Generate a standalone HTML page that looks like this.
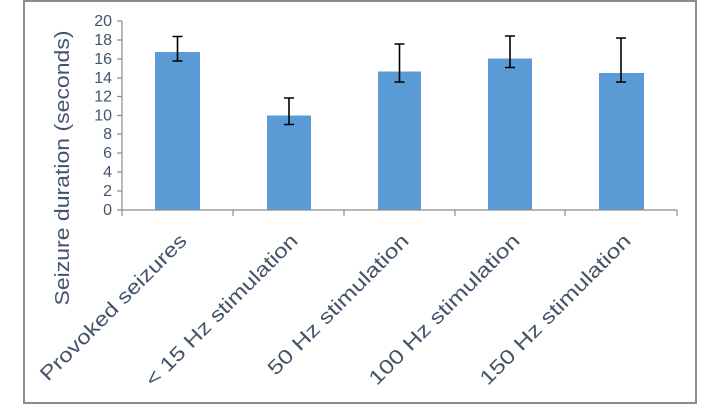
<!DOCTYPE html>
<html><head><meta charset="utf-8"><style>html,body{margin:0;padding:0;background:#fff}svg{display:block}</style></head>
<body>
<svg width="720" height="405" xmlns="http://www.w3.org/2000/svg" font-family="'Liberation Sans',sans-serif">
<rect x="24" y="1" width="672" height="402" fill="#fff" stroke="#8c8c8c" stroke-width="2"/>
<g fill="#5b9bd5">
<rect x="155" y="52" width="45" height="158"/>
<rect x="267" y="115.5" width="44" height="94.5"/>
<rect x="378" y="71.5" width="43" height="138.5"/>
<rect x="488" y="58.5" width="44" height="151.5"/>
<rect x="599" y="73" width="45" height="137"/>
</g>
<g stroke="#000" stroke-width="1.6" fill="none">
<path d="M177.5 36.5V61M172.5 36.5h10M172.5 61h10"/>
<path d="M289 98V124.5M284 98h10M284 124.5h10"/>
<path d="M399.5 44V82M394.5 44h10M394.5 82h10"/>
<path d="M510 36V67.5M505 36h10M505 67.5h10"/>
<path d="M621 38V82M616 38h10M616 82h10"/>
</g>
<g stroke="#8c8c8c" stroke-width="1.2" fill="none">
<path d="M122 21V210M117 210H677"/>
<path d="M117 21h5M117 40h5M117 59h5M117 78h5M117 96.5h5M117 115.5h5M117 134h5M117 153h5M117 172h5M117 191h5"/>
<path d="M122 210v6M233 210v6M344 210v6M455 210v6M565 210v6M677 210v6"/>
</g>
<g fill="#44546a" font-size="16" text-anchor="end">
<text x="112" y="26">20</text><text x="112" y="45">18</text><text x="112" y="64">16</text><text x="112" y="83">14</text><text x="112" y="101.5">12</text><text x="112" y="120.5">10</text><text x="112" y="139">8</text><text x="112" y="158">6</text><text x="112" y="177">4</text><text x="112" y="196">2</text><text x="112" y="215">0</text>
</g>
<text transform="translate(69,168) rotate(-90)" text-anchor="middle" fill="#44546a" font-size="20" textLength="275" lengthAdjust="spacingAndGlyphs">Seizure duration (seconds)</text>
<g fill="#44546a" font-size="20" text-anchor="end" lengthAdjust="spacingAndGlyphs">
<text transform="translate(188,242) rotate(-45)" textLength="198" lengthAdjust="spacingAndGlyphs">Provoked seizures</text>
<text transform="translate(299,242) rotate(-45)" textLength="206" lengthAdjust="spacingAndGlyphs">&lt; 15 Hz stimulation</text>
<text transform="translate(410,242) rotate(-45)" textLength="190" lengthAdjust="spacingAndGlyphs">50 Hz stimulation</text>
<text transform="translate(521,242) rotate(-45)" textLength="204" lengthAdjust="spacingAndGlyphs">100 Hz stimulation</text>
<text transform="translate(632,242) rotate(-45)" textLength="204" lengthAdjust="spacingAndGlyphs">150 Hz stimulation</text>
</g>
</svg>
</body></html>
